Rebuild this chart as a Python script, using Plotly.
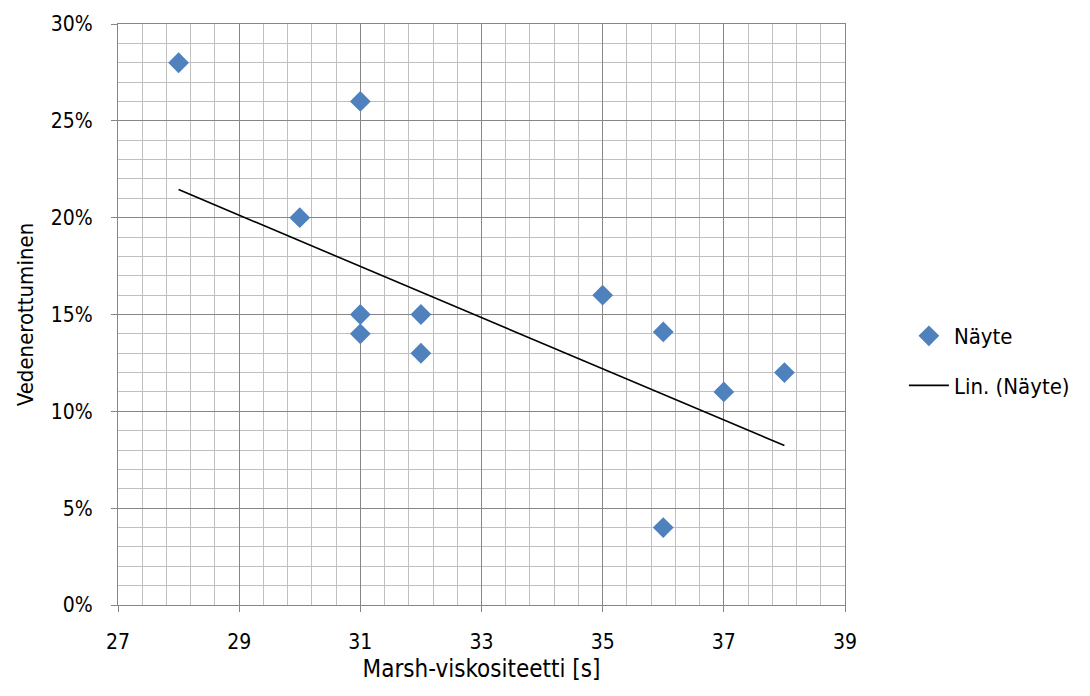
import plotly.graph_objects as go

# Data
marsh_s = [28, 31, 30, 31, 31, 32, 32, 35, 36, 37, 38, 36]
water_sep = [0.28, 0.26, 0.20, 0.15, 0.14, 0.15, 0.13, 0.16, 0.141, 0.11, 0.12, 0.04]
trend_x = [28, 38]
trend_y = [0.2145, 0.0823]

x_ticks = [27, 29, 31, 33, 35, 37, 39]
y_ticks = [0, 0.05, 0.10, 0.15, 0.20, 0.25, 0.30]

blue = "#4F81BD"
major = "#868686"
minor = "#C0C0C0"
FONT = "DejaVu Sans Condensed, DejaVu Sans, sans-serif"
tick_font = dict(family=FONT, size=21, color="#000000")

fig = go.Figure()
fig.add_trace(go.Scatter(
    x=marsh_s, y=water_sep, mode="markers", name="Näyte",
    legendgroup="a",
    marker=dict(symbol="diamond", size=16, color=blue, line=dict(width=0)),
))
fig.add_trace(go.Scatter(
    x=trend_x, y=trend_y, mode="lines", name="Lin. (Näyte)",
    legendgroup="b",
    line=dict(color="#000000", width=1.6),
))

fig.update_layout(
    width=1090, height=696,
    margin=dict(l=118, r=245, t=22, b=91),
    paper_bgcolor="white", plot_bgcolor="white",
    showlegend=True,
    legend=dict(
        x=1.081, y=0.42, xanchor="left", yanchor="middle",
        font=dict(family=FONT, size=22, color="#000000"),
        tracegroupgap=18, itemwidth=40, bgcolor="rgba(0,0,0,0)",
    ),
)
fig.update_xaxes(
    range=[27, 39], tickvals=x_ticks, ticktext=[str(v) for v in x_ticks],
    showgrid=True, gridcolor=major, gridwidth=1,
    minor=dict(dtick=0.4, tick0=27, showgrid=True, gridcolor=minor, gridwidth=1),
    ticks="outside", ticklen=6, tickcolor=major, ticklabelstandoff=12,
    showline=True, linecolor=major, linewidth=1, mirror=True,
    zeroline=False, tickfont=tick_font,
    title=dict(text="Marsh-viskositeetti [s]",
               font=dict(family=FONT, size=24, color="#000000"), standoff=6),
)
fig.update_yaxes(
    range=[0, 0.30], tickvals=y_ticks, tickformat=".0%",
    showgrid=True, gridcolor=major, gridwidth=1,
    minor=dict(dtick=0.01, tick0=0, showgrid=True, gridcolor=minor, gridwidth=1),
    ticks="outside", ticklen=6, tickcolor=major, ticklabelstandoff=14,
    showline=True, linecolor=major, linewidth=1, mirror=True,
    zeroline=False, tickfont=tick_font,
    title=dict(text="Vedenerottuminen",
               font=dict(family=FONT, size=22, color="#000000"), standoff=11),
)

fig.write_html("out.html")
